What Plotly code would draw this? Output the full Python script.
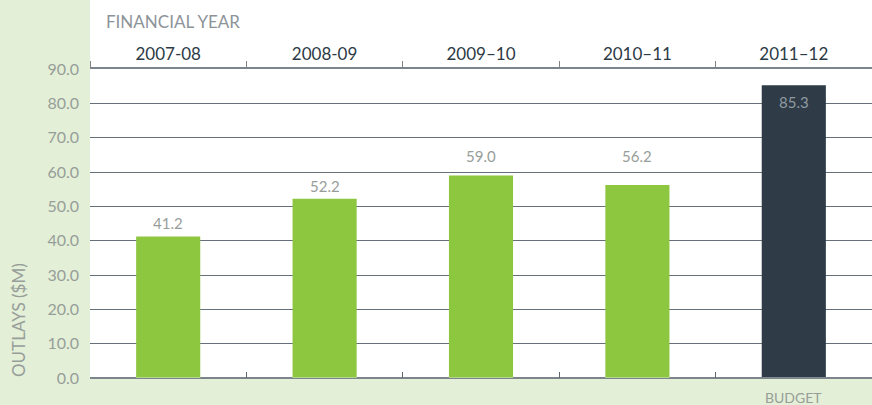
import plotly.graph_objects as go

# Annual outlays by financial year ($M); the last year is the budget figure
years = ["2007-08", "2008-09", "2009–10", "2010–11", "2011–12"]
outlays = [41.2, 52.2, 59.0, 56.2, 85.3]
is_budget = [False, False, False, False, True]
y_ticks = [0, 10, 20, 30, 40, 50, 60, 70, 80, 90]

GREEN = "#8dc63f"
NAVY = "#2f3c47"
PAGE = "#e3efd6"
GREY_TXT = "#979e9a"
GRID = "#66707a"
FONT = "Lato"

bar_colors = [NAVY if b else GREEN for b in is_budget]

fig = go.Figure()
fig.add_trace(go.Bar(
    x=years, y=outlays,
    marker=dict(color=bar_colors, line=dict(width=0)),
    hoverinfo="skip",
))
# invisible companion trace so the bottom axis draws its boundary ticks
fig.add_trace(go.Bar(
    x=years, y=[0] * len(years), xaxis="x2",
    marker=dict(color="rgba(0,0,0,0)"), hoverinfo="skip", showlegend=False,
))

# value labels: kept clear of the gridlines, budget value sits inside its bar
label_shift = [14, 13, 19, 29, -17]
value_labels = [
    dict(text=f"{v:.1f}", x=yr, y=v, xref="x", yref="y",
         yshift=s, xanchor="center", yanchor="middle", showarrow=False,
         font=dict(size=15, color="#8e99a2" if b else GREY_TXT, family=FONT))
    for yr, v, b, s in zip(years, outlays, is_budget, label_shift)
]

fig.update_layout(
    width=872, height=405,
    margin=dict(l=90, r=0, t=69, b=27),
    paper_bgcolor=PAGE,
    plot_bgcolor="white",
    showlegend=False,
    bargap=0.59,
    font=dict(family=FONT, color=GREY_TXT),
    xaxis=dict(
        type="category", side="top",
        tickson="boundaries", ticks="outside", ticklen=6, tickwidth=1,
        tickcolor="#7c858c",
        showline=True, linecolor="#7c858c", linewidth=1.5,
        showgrid=False,
        tickfont=dict(size=17, color="#2c3a45", family=FONT),
    ),
    xaxis2=dict(
        type="category", overlaying="x", side="bottom", anchor="y",
        matches="x",
        tickson="boundaries", ticks="inside", ticklen=6, tickwidth=1,
        tickcolor="#5f6870", showticklabels=False, showgrid=False,
        showline=False,
    ),
    yaxis=dict(
        range=[0, 90], tickvals=y_ticks, tickformat=".1f",
        showgrid=True, gridcolor=GRID, gridwidth=1.2,
        zeroline=True, zerolinecolor="#7c858c", zerolinewidth=1.5,
        showline=False, ticks="",
        tickfont=dict(size=16, color=GREY_TXT, family=FONT),
        ticklabelstandoff=10,
    ),
    shapes=[dict(
        type="rect", xref="paper", yref="paper",
        x0=0, x1=1, y0=1, y1=1.3,
        fillcolor="white", line=dict(width=0), layer="below",
    )],
    annotations=value_labels + [
        dict(text="FINANCIAL YEAR", xref="paper", yref="paper",
             x=(104 - 90) / 782, y=1 + (69 - 22) / 309,
             xanchor="left", yanchor="middle", showarrow=False,
             font=dict(size=17, color="#8d9499", family=FONT)),
        dict(text="OUTLAYS ($M)", xref="paper", yref="paper",
             x=(18 - 90) / 782, y=(378 - 320) / 309, textangle=-90,
             xanchor="center", yanchor="middle", showarrow=False,
             font=dict(size=17, color=GREY_TXT, family=FONT)),
        dict(text="BUDGET", xref="x", yref="paper",
             x=years[-1], y=0, yshift=-9, xanchor="center", yanchor="top",
             showarrow=False,
             font=dict(size=14, color=GREY_TXT, family=FONT)),
    ],
)

fig.write_html("out.html")
